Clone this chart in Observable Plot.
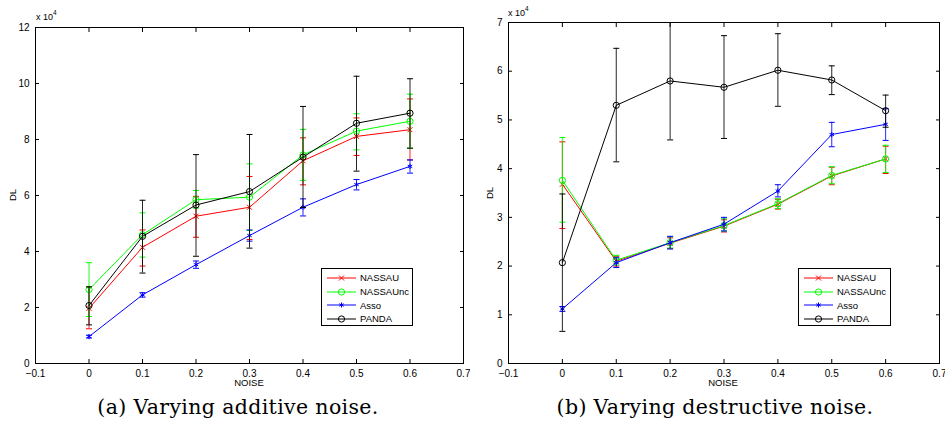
<!DOCTYPE html>
<html><head><meta charset="utf-8">
<script src="https://cdn.jsdelivr.net/npm/d3@7"></script>
<script src="https://cdn.jsdelivr.net/npm/@observablehq/plot@0.6"></script>
<style>
html,body{margin:0;padding:0;background:#fff;}
body{width:945px;height:424px;overflow:hidden;position:relative;font-family:"Liberation Sans",Arial,sans-serif;color:#000;}
.panel{position:absolute;top:0;}
.lbl{position:absolute;font-size:9.5px;line-height:10px;white-space:nowrap;}
.exp{position:absolute;font-size:9px;line-height:10px;white-space:nowrap;}
.exp sup{font-size:6.5px;vertical-align:5px;line-height:0;}
.ylab{position:absolute;font-size:9.5px;line-height:10px;transform:translate(-50%,-50%) rotate(-90deg);white-space:nowrap;}
.legend{position:absolute;border:1px solid #000;background:#fff;font-size:9.5px;box-sizing:border-box;padding-top:2px;}
.legend .row{height:13.7px;display:flex;align-items:center;white-space:nowrap;}
.legend svg{display:block;margin-left:5px;margin-right:3px;}
.caption{position:absolute;font-family:"DejaVu Serif",serif;font-size:20.5px;letter-spacing:0.35px;line-height:20px;text-align:center;white-space:nowrap;}
</style></head>
<body>
<div id="pa" class="panel" style="left:0px"></div>
<div id="pb" class="panel" style="left:475px"></div>
<script>
// ---------- data (values in units of 10^4) ----------
const noise = [0, 0.1, 0.2, 0.3, 0.4, 0.5, 0.6];
const seriesNames = ["NASSAU", "NASSAUnc", "Asso", "PANDA"];
const seriesColors = ["#ff0000", "#00ff00", "#0000ff", "#000000"];
const seriesSymbols = ["times", "circle", "asterisk", "circle"];
const xTicks = [-0.1, 0, 0.1, 0.2, 0.3, 0.4, 0.5, 0.6, 0.7];
const addYTicks = [0, 2, 4, 6, 8, 10, 12];
const desYTicks = [0, 1, 2, 3, 4, 5, 6, 7];

// (a) additive noise
const addNassauMean = [1.97, 4.15, 5.26, 5.58, 7.24, 8.11, 8.35];
const addNassauLow  = [1.24, 3.48, 4.51, 4.43, 6.38, 7.43, 7.27];
const addNassauHigh = [2.72, 4.77, 5.97, 6.68, 8.06, 8.77, 9.45];
const addNassauncMean = [2.64, 4.60, 5.85, 5.94, 7.45, 8.30, 8.65];
const addNassauncLow  = [1.68, 3.80, 5.55, 4.75, 6.54, 7.63, 7.69];
const addNassauncHigh = [3.60, 5.38, 6.18, 7.13, 8.36, 8.92, 9.62];
const addAssoMean = [0.96, 2.45, 3.53, 4.57, 5.58, 6.39, 7.04];
const addAssoLow  = [0.91, 2.37, 3.40, 4.37, 5.27, 6.20, 6.80];
const addAssoHigh = [1.01, 2.53, 3.66, 4.77, 5.88, 6.57, 7.27];
const addPandaMean = [2.07, 4.54, 5.66, 6.14, 7.37, 8.58, 8.94];
const addPandaLow  = [1.38, 3.23, 3.83, 4.12, 5.57, 6.87, 7.69];
const addPandaHigh = [2.74, 5.83, 7.46, 8.18, 9.18, 10.26, 10.17];

// (b) destructive noise
const desNassauMean = [3.68, 2.10, 2.47, 2.82, 3.27, 3.85, 4.20];
const desNassauLow  = [2.77, 2.00, 2.36, 2.70, 3.17, 3.67, 3.90];
const desNassauHigh = [4.55, 2.20, 2.58, 2.95, 3.37, 4.03, 4.46];
const desNassauncMean = [3.76, 2.12, 2.48, 2.83, 3.28, 3.86, 4.20];
const desNassauncLow  = [2.90, 2.02, 2.37, 2.72, 3.18, 3.69, 3.92];
const desNassauncHigh = [4.64, 2.22, 2.60, 2.97, 3.38, 4.04, 4.48];
const desAssoMean = [1.12, 2.07, 2.48, 2.86, 3.54, 4.70, 4.91];
const desAssoLow  = [1.07, 1.97, 2.35, 2.72, 3.42, 4.45, 4.58];
const desAssoHigh = [1.17, 2.17, 2.61, 3.00, 3.67, 4.95, 5.23];
const desPandaMean = [2.07, 5.30, 5.80, 5.67, 6.02, 5.82, 5.19];
const desPandaLow  = [0.66, 4.14, 4.59, 4.62, 5.28, 5.52, 4.85];
const desPandaHigh = [3.48, 6.47, 7.02, 6.73, 6.77, 6.11, 5.51];

// ---------- helpers ----------
const capSymbol = {draw(ctx, size) { const w = Math.sqrt(size / Math.PI); ctx.moveTo(-w, 0); ctx.lineTo(w, 0); }};
const fmt = d3.format("~g");

function buildRows(means, lows, highs) {
  const rows = [];
  seriesNames.forEach((s, si) => noise.forEach((x, i) =>
    rows.push({series: s, x, y: means[si][i], lo: lows[si][i], hi: highs[si][i]})));
  return rows;
}

function panel({rows, yDomain, yTicks, width, height, mt, ml, mr, mb}) {
  const marks = [];
  seriesNames.forEach((s, si) => {
    const d = rows.filter(r => r.series === s);
    const c = seriesColors[si];
    marks.push(
      Plot.ruleX(d, {x: "x", y1: "lo", y2: "hi", stroke: c, strokeWidth: 1, strokeOpacity: 0.85, clip: true}),
      Plot.dot(d, {x: "x", y: "lo", symbol: capSymbol, r: 3, stroke: c, strokeWidth: 1, clip: true}),
      Plot.dot(d, {x: "x", y: "hi", symbol: capSymbol, r: 3, stroke: c, strokeWidth: 1, clip: true}),
      Plot.line(d, {x: "x", y: "y", stroke: c, strokeWidth: 1}),
      Plot.dot(d, {x: "x", y: "y", symbol: seriesSymbols[si], r: seriesSymbols[si] === "circle" ? 3.1 : 2.4, stroke: c, fill: "none", strokeWidth: 1})
    );
  });
  return Plot.plot({
    width, height,
    marginTop: mt, marginLeft: ml, marginRight: mr, marginBottom: mb,
    style: {fontFamily: '"Liberation Sans", Arial, sans-serif', fontSize: "10px", background: "white", color: "black"},
    x: {domain: [-0.1, 0.7]},
    y: {domain: yDomain},
    marks: [
      ...marks,
      Plot.axisX(xTicks, {anchor: "bottom", tickSize: -4, tickPadding: 10, tickFormat: fmt, label: null}),
      Plot.axisX(xTicks, {anchor: "top", tickSize: -4, fill: "none", label: null}),
      Plot.axisY(yTicks, {anchor: "left", tickSize: -4, tickPadding: 10, tickFormat: fmt, label: null}),
      Plot.axisY(yTicks, {anchor: "right", tickSize: -4, fill: "none", label: null}),
      Plot.frame({stroke: "black", strokeWidth: 1})
    ]
  });
}

function legend(left, top, w, h) {
  const div = document.createElement("div");
  div.className = "legend";
  Object.assign(div.style, {left: left + "px", top: top + "px", width: w + "px", height: h + "px"});
  seriesNames.forEach((s, si) => {
    const row = document.createElement("div");
    row.className = "row";
    const svg = d3.create("svg").attr("width", 30).attr("height", 12);
    svg.append("line").attr("x1", 0).attr("x2", 29).attr("y1", 6).attr("y2", 6).attr("stroke", seriesColors[si]).attr("stroke-width", 1);
    const sym = {times: d3.symbolTimes, circle: d3.symbolCircle, asterisk: d3.symbolAsterisk}[seriesSymbols[si]];
    const r = seriesSymbols[si] === "circle" ? 3.1 : 2.4;
    svg.append("path").attr("d", d3.symbol(sym, r * r * Math.PI)()).attr("transform", "translate(14.5,6)")
      .attr("fill", "none").attr("stroke", seriesColors[si]).attr("stroke-width", 1);
    row.appendChild(svg.node());
    const t = document.createElement("span");
    t.textContent = s;
    row.appendChild(t);
    div.appendChild(row);
  });
  document.body.appendChild(div);
}

function addText(cls, html, style) {
  const d = document.createElement("div");
  d.className = cls;
  d.innerHTML = html;
  Object.assign(d.style, style);
  document.body.appendChild(d);
}

// ---------- panel (a) ----------
const rowsA = buildRows(
  [addNassauMean, addNassauncMean, addAssoMean, addPandaMean],
  [addNassauLow, addNassauncLow, addAssoLow, addPandaLow],
  [addNassauHigh, addNassauncHigh, addAssoHigh, addPandaHigh]);
document.getElementById("pa").appendChild(panel({rows: rowsA, yDomain: [0, 12], yTicks: addYTicks, width: 470, height: 395, mt: 27, ml: 35, mr: 7, mb: 32}));

// ---------- panel (b) ----------
const rowsB = buildRows(
  [desNassauMean, desNassauncMean, desAssoMean, desPandaMean],
  [desNassauLow, desNassauncLow, desAssoLow, desPandaLow],
  [desNassauHigh, desNassauncHigh, desAssoHigh, desPandaHigh]);
document.getElementById("pb").appendChild(panel({rows: rowsB, yDomain: [0, 7], yTicks: desYTicks, width: 470, height: 395, mt: 22, ml: 33, mr: 6, mb: 32}));

// ---------- annotations ----------
addText("exp", "x 10<sup>4</sup>", {left: "36px", top: "12px"});
addText("exp", "x 10<sup>4</sup>", {left: "508px", top: "8px"});
addText("lbl", "NOISE", {left: "249px", top: "378px", transform: "translateX(-50%)"});
addText("lbl", "NOISE", {left: "723px", top: "378px", transform: "translateX(-50%)"});
addText("ylab", "DL", {left: "13px", top: "195px"});
addText("ylab", "DL", {left: "490px", top: "193px"});
legend(321, 268, 92, 58);
legend(798, 268, 93, 58);
addText("caption", "(a) Varying additive noise.", {left: "0px", width: "476px", top: "397px"});
addText("caption", "(b) Varying destructive noise.", {left: "475px", width: "480px", top: "397px"});
</script>
</body></html>
